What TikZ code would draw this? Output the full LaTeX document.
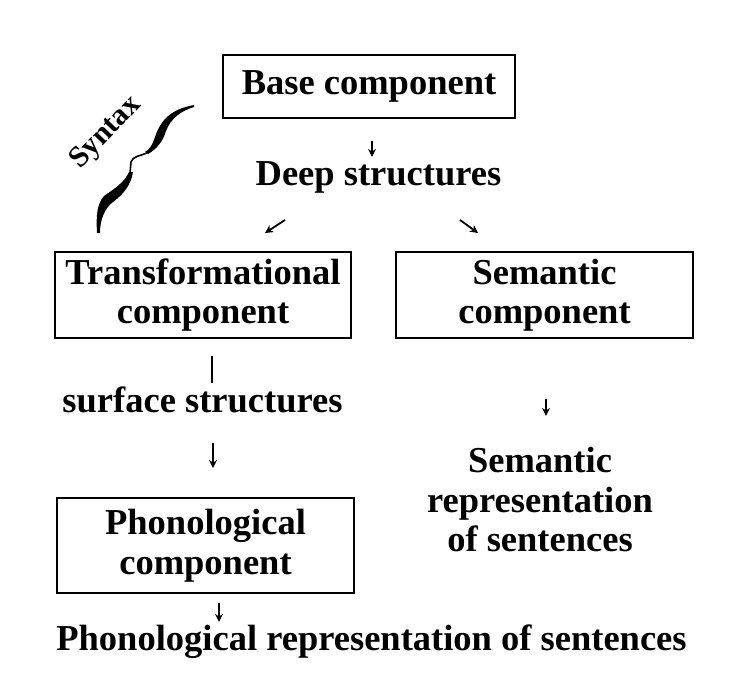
\documentclass[tikz,border=0pt]{standalone}
\usepackage{fontspec}
\setmainfont{Liberation Serif}
\usetikzlibrary{arrows.meta}

\begin{document}
\begin{tikzpicture}[x=1pt,y=-1pt,
  font=\fontsize{36.5}{39.5}\selectfont\bfseries,
  comp/.style={draw,line width=1.8pt,inner sep=0pt,align=center},
  txt/.style={inner sep=0pt,align=center},
  arr/.style={-{Stealth[length=8pt,width=8pt]},line width=1.8pt}]
\useasboundingbox (0,0) rectangle (740,688);
% components
\node[comp,minimum width=292,minimum height=63] (base) at (369,86.5) {Base component};
\node[comp,minimum width=296,minimum height=86] (trans) at (203,295) {Transformational\\component};
\node[comp,minimum width=297,minimum height=86] (sem) at (544.5,295) {Semantic\\component};
\node[comp,minimum width=297,minimum height=95] (phon) at (205.5,545.5) {Phonological\\component};
% structures and representations
\node[txt,anchor=base] (deep) at (378.5,185) {Deep structures};
\node[txt,anchor=base] (surf) at (202.5,412) {surface structures};
\node[txt] (semrep) at (540,500) {Semantic\\representation\\of sentences};
\node[txt,anchor=base] (phonrep) at (371.5,650) {Phonological representation of sentences};
% small arrows
\draw[arr] ([shift={(3,22)}]base.south) -- ++(0,16);
\draw[arr] ([shift={(-93.5,35)}]deep.base) -- ++(-20,13);
\draw[arr] ([shift={(81.5,35)}]deep.base) -- ++(18,13);
\draw[line width=1.8pt] ([shift={(9,17)}]trans.south) -- ++(0,27);
\draw[arr] ([shift={(1.5,60)}]sem.south) -- ++(0,17);
\draw[arr] ([shift={(10.5,31)}]surf.base) -- ++(0,25);
\draw[arr] ([shift={(13.5,9)}]phon.south) -- ++(0,19);
% syntax brace
\node[txt,rotate=46,font=\fontsize{30}{32}\selectfont\bfseries] (syn) at (106,133) {Syntax};
\fill (194,105) .. controls (172,109) and (161,119) .. (155,137) .. controls (152,146) and (149,150) .. (145,152)
  -- (148,154) .. controls (157,149) and (163,141) .. (166,131) .. controls (171,118) and (181,111) .. (194,107) -- cycle;
\draw[line width=1.6pt] (147,153) .. controls (140,156) and (133,156) .. (131,162) -- (130,173);
\fill (129,172) .. controls (125,182) and (114,189) .. (104,196) .. controls (97,204) and (96,215) .. (97,233)
  -- (100,233) .. controls (100,219) and (105,208) .. (113,202) .. controls (125,193) and (131,184) .. (133,172) -- cycle;
\end{tikzpicture}
\end{document}
